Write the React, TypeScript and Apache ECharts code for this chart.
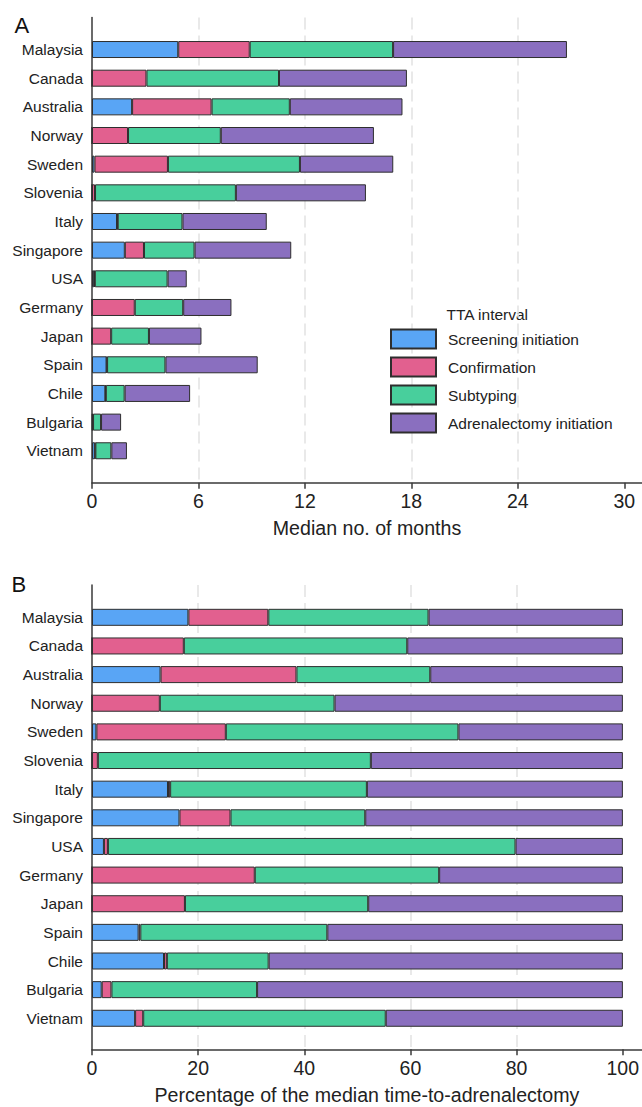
import React, { useEffect, useRef } from "react";
import * as echarts from "echarts";

const countries = [
  "Malaysia", "Canada", "Australia", "Norway", "Sweden", "Slovenia", "Italy",
  "Singapore", "USA", "Germany", "Japan", "Spain", "Chile", "Bulgaria", "Vietnam",
];
// Median months per TTA interval
const screening = [4.86, 0, 2.26, 0, 0.14, 0, 1.41, 1.85, 0.12, 0, 0, 0.82, 0.75, 0.03, 0.16];
const confirmation = [4.03, 3.07, 4.48, 2.03, 4.14, 0.17, 0.04, 1.08, 0.04, 2.41, 1.08, 0.03, 0.03, 0.03, 0.03];
const subtyping = [8.08, 7.47, 4.41, 5.23, 7.44, 7.94, 3.65, 2.85, 4.1, 2.73, 2.13, 3.29, 1.06, 0.45, 0.9];
const adrenalectomy = [9.8, 7.21, 6.35, 8.63, 5.26, 7.33, 4.75, 5.45, 1.08, 2.72, 2.96, 5.2, 3.69, 1.13, 0.88];

const seriesNames = ["Screening initiation", "Confirmation", "Subtyping", "Adrenalectomy initiation"];
const colors = ["#59A5F5", "#E2608F", "#48CF9C", "#8A6FBF"];
const monthTicks = [0, 6, 12, 18, 24, 30];
const pctTicks = [0, 20, 40, 60, 80, 100];

const FONT = "'Liberation Sans', Arial, Helvetica, sans-serif";
const AXIS_COLOR = "#3a3a3a";
const TEXT_COLOR = "#222";

export default function App() {
  const ref = useRef<HTMLDivElement>(null);

  useEffect(() => {
    document.body.style.margin = "0";
    const chart = echarts.init(ref.current!, null, { renderer: "svg" });

    const segs = [screening, confirmation, subtyping, adrenalectomy];
    const totals = countries.map((_, i) => segs.reduce((s, arr) => s + arr[i], 0));
    const pct = segs.map((arr) => arr.map((v, i) => (v / totals[i]) * 100));

    const frameX = (gridIndex: number, max: number, ticks: number[], name: string, nameGap: number, margin: number) => ({
      type: "value",
      gridIndex,
      min: 0,
      max,
      interval: ticks[1] - ticks[0],
      axisLine: { show: true, onZero: false, lineStyle: { color: AXIS_COLOR, width: 1.5 } },
      axisTick: { show: true, length: 6, customValues: ticks, lineStyle: { color: AXIS_COLOR, width: 1.5 } },
      axisLabel: {
        customValues: ticks,
        fontSize: 19.5,
        color: TEXT_COLOR,
        fontFamily: FONT,
        margin,
        formatter: (v: number) => (ticks.indexOf(v) >= 0 ? String(v) : ""),
      },
      splitLine: {
        show: true,
        showMinLine: false,
        showMaxLine: false,
        lineStyle: { type: [12, 6], color: "#e2e2e2", width: 1.5 },
      },
      name,
      nameLocation: "middle",
      nameGap,
      nameTextStyle: { fontSize: 19.6, color: TEXT_COLOR, fontFamily: FONT },
    });
    const barsX = (gridIndex: number, max: number) => ({
      type: "value",
      gridIndex,
      min: 0,
      max,
      show: false,
    });
    const frameY = (gridIndex: number) => ({
      type: "value",
      gridIndex,
      min: 0,
      max: 1,
      axisLine: { show: true, onZero: false, lineStyle: { color: AXIS_COLOR, width: 1.5 } },
      axisTick: { show: false },
      axisLabel: { show: false },
      splitLine: { show: false },
    });
    const barsY = (gridIndex: number) => ({
      type: "category",
      gridIndex,
      data: countries,
      inverse: true,
      axisLine: { show: false },
      axisTick: { show: false },
      axisLabel: { fontSize: 15.5, color: TEXT_COLOR, fontFamily: FONT, margin: 9 },
    });

    const makeSeries = (data: number[][], axisIndex: number, stack: string) =>
      seriesNames.map((name, k) => ({
        type: "bar",
        name,
        stack,
        xAxisIndex: axisIndex,
        yAxisIndex: axisIndex,
        barWidth: 17,
        data: data[k],
        itemStyle: { color: colors[k], borderColor: "#2e2e2e", borderWidth: 1 },
      }));

    chart.setOption({
      animation: false,
      textStyle: { fontFamily: FONT },
      grid: [
        { left: 92, right: 0, top: 17.5, height: 465.2 },
        { left: 92, right: 0, top: 35.2, height: 429.9 },
        { left: 92, right: 0, top: 585, height: 464.3 },
        { left: 92, right: 0, top: 603, height: 429.6 },
      ],
      xAxis: [
        frameX(0, 31, monthTicks, "Median no. of months", 35, 8),
        barsX(1, 31),
        frameX(2, 103.6, pctTicks, "Percentage of the median time-to-adrenalectomy", 36, 9),
        barsX(3, 103.6),
      ],
      yAxis: [frameY(0), barsY(1), frameY(2), barsY(3)],
      legend: {
        data: seriesNames,
        orient: "vertical",
        left: 385,
        top: 323.5,
        itemWidth: 45,
        itemHeight: 19,
        itemGap: 7,
        selectedMode: false,
        icon: "rect",
        textStyle: { fontSize: 15.5, lineHeight: 19, color: TEXT_COLOR, fontFamily: FONT, padding: [0, 0, 0, 7] },
      },
      graphic: [
        { type: "text", x: 14.5, y: 25.5, style: { text: "A", fontSize: 22, fill: "#111", fontFamily: FONT, verticalAlign: "middle" } },
        { type: "text", x: 11.5, y: 584, style: { text: "B", fontSize: 22, fill: "#111", fontFamily: FONT, verticalAlign: "middle" } },
        { type: "text", x: 446.5, y: 314, style: { text: "TTA interval", fontSize: 15.5, fill: TEXT_COLOR, fontFamily: FONT, verticalAlign: "middle" } },
      ],
      series: [...makeSeries(segs, 1, "months"), ...makeSeries(pct, 3, "pct")],
    });

    return () => chart.dispose();
  }, []);

  return <div ref={ref} style={{ width: 642, height: 1107 }} />;
}
